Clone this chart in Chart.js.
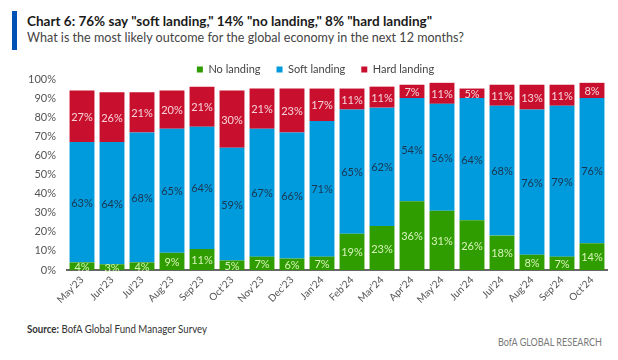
<!DOCTYPE html>
<html>
<head>
<meta charset="utf-8">
<script src="https://cdn.jsdelivr.net/npm/chart.js@4.4.1/dist/chart.umd.min.js"></script>
<style>
  html, body { margin: 0; padding: 0; background: #fff; }
  body { width: 618px; height: 360px; position: relative; overflow: hidden; font-family: Lato, "Open Sans", sans-serif; }
  .fit { position: absolute; white-space: nowrap; transform-origin: 0 50%; }
  #bar { position: absolute; left: 12px; top: 11px; width: 5px; height: 39px; background: #0052b4; }
  #title { left: 27px; top: 13px; font-size: 13.5px; font-weight: 700; color: #1a1a1a; }
  #subtitle { left: 27px; top: 29px; font-size: 13px; color: #444; }
  #source { left: 27px; top: 323px; font-size: 10.5px; color: #333; }
  #brand { left: 498px; top: 336px; font-size: 10.5px; color: #7a7a7a; }
  #wrap { position: absolute; left: 0; top: 48px; width: 618px; height: 272px; }
</style>
</head>
<body>
<div id="bar"></div>
<div id="title" class="fit" data-w="405">Chart 6: 76% say "soft landing," 14% "no landing," 8% "hard landing"</div>
<div id="subtitle" class="fit" data-w="437">What is the most likely outcome for the global economy in the next 12 months?</div>
<div id="wrap"><canvas id="c" width="618" height="272"></canvas></div>
<div id="source" class="fit" data-w="180"><b>Source:</b> BofA Global Fund Manager Survey</div>
<div id="brand" class="fit" data-w="104">BofA GLOBAL RESEARCH</div>
<script>
const categories = ["May\u201923","Jun\u201923","Jul\u201923","Aug\u201923","Sep\u201923","Oct\u201923","Nov\u201923","Dec\u201923","Jan\u201924","Feb\u201924","Mar\u201924","Apr\u201924","May\u201924","Jun\u201924","Jul\u201924","Aug\u201924","Sep\u201924","Oct\u201924"];
const noLanding   = [4, 3, 4, 9, 11, 5, 7, 6, 7, 19, 23, 36, 31, 26, 18, 8, 7, 14];
const softLanding = [63, 64, 68, 65, 64, 59, 67, 66, 71, 65, 62, 54, 56, 64, 68, 76, 79, 76];
const hardLanding = [27, 26, 21, 20, 21, 30, 21, 23, 17, 11, 11, 7, 11, 5, 11, 13, 11, 8];
const yTicks = [0, 10, 20, 30, 40, 50, 60, 70, 80, 90, 100];

document.querySelectorAll('.fit').forEach(el => {
  const w = el.getBoundingClientRect().width;
  const t = parseFloat(el.dataset.w);
  el.style.transform = 'scaleX(' + (t / w) + ')';
});

const FONT = 'Lato, "Open Sans", sans-serif';
const labelColors = ['#d6f5b8', '#1b3550', '#f6d3da'];

const barLabels = {
  id: 'barLabels',
  afterDatasetsDraw(chart) {
    const ctx = chart.ctx;
    ctx.save();
    ctx.font = '11px ' + FONT;
    ctx.textAlign = 'center';
    ctx.textBaseline = 'middle';
    chart.data.datasets.forEach((ds, di) => {
      const meta = chart.getDatasetMeta(di);
      meta.data.forEach((el, i) => {
        const v = ds.data[i];
        ctx.fillStyle = labelColors[di];
        ctx.fillText(v + '%', el.x, (el.y + el.base) / 2 + 1);
      });
    });
    ctx.restore();
  }
};

const legendTweak = {
  id: 'legendTweak',
  beforeInit(chart) {
    const lg = chart.legend;
    if (!lg) return;
    const fit = lg.fit;
    lg.fit = function () { fit.apply(this, arguments); this.height -= 6; };
    const draw = lg.draw;
    lg.draw = function () {
      const ctx = this.ctx;
      ctx.save();
      ctx.translate(12, 0);
      draw.apply(this, arguments);
      ctx.restore();
    };
  }
};

const chart = new Chart(document.getElementById('c'), {
  type: 'bar',
  data: {
    labels: categories,
    datasets: [
      { label: 'No landing', data: noLanding, backgroundColor: '#2f9c00' },
      { label: 'Soft landing', data: softLanding, backgroundColor: '#009bdc' },
      { label: 'Hard landing', data: hardLanding, backgroundColor: '#c8102e' }
    ]
  },
  options: {
    responsive: false,
    animation: false,
    layout: { padding: { left: 0, right: 11, top: 0, bottom: 0 } },
    datasets: { bar: { categoryPercentage: 1, barPercentage: 0.83 } },
    plugins: {
      legend: {
        position: 'top',
        labels: { boxWidth: 6, boxHeight: 6, padding: 16, color: '#444', font: { family: FONT, size: 11 } }
      },
      tooltip: { enabled: false }
    },
    scales: {
      x: {
        stacked: true,
        grid: { display: false, drawTicks: false },
        border: { display: true, color: '#666', width: 2 },
        ticks: { color: '#555', font: { family: FONT, size: 10 }, minRotation: 45, maxRotation: 45, padding: 4 },
        afterFit(s) { s.height = 50; }
      },
      y: {
        stacked: true,
        min: 0, max: 100,
        afterBuildTicks(s) { s.ticks = yTicks.map(v => ({ value: v })); },
        grid: { display: false, drawTicks: false },
        border: { display: false },
        ticks: { color: '#555', font: { family: FONT, size: 11 }, padding: 11, callback: v => v + '%' },
        afterFit(s) { s.width = 67; }
      }
    }
  },
  plugins: [legendTweak, barLabels]
});
</script>
</body>
</html>
